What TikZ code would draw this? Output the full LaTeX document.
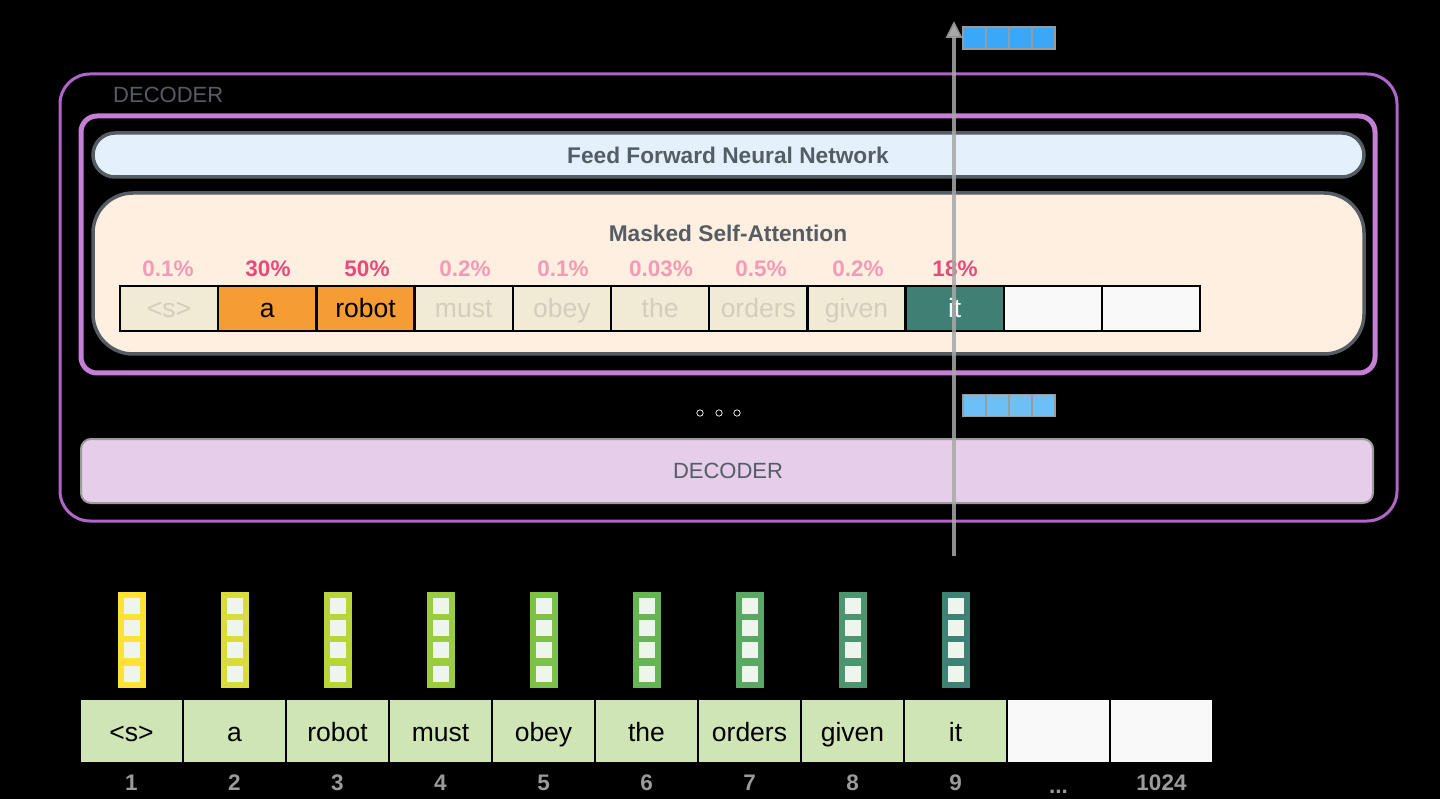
\documentclass[tikz,border=0pt]{standalone}
\usepackage{fontspec}
\setmainfont{Liberation Sans}
\usetikzlibrary{arrows.meta}
\definecolor{outerpurple}{HTML}{B065C9}
\definecolor{innerpurple}{HTML}{C57FD6}
\definecolor{boxgray}{HTML}{555D64}
\definecolor{ffnnfill}{HTML}{E4F1FD}
\definecolor{msafill}{HTML}{FEEFE0}
\definecolor{decfill}{HTML}{E6CDEA}
\definecolor{beige}{HTML}{F1EBD5}
\definecolor{dimtext}{HTML}{D3CDBE}
\definecolor{orangec}{HTML}{F59C33}
\definecolor{tealc}{HTML}{3E8073}
\definecolor{emptyc}{HTML}{F9F9F9}
\definecolor{pctlight}{HTML}{F39AB6}
\definecolor{pctdark}{HTML}{E84A7C}
\definecolor{tokfill}{HTML}{D0E5B5}
\definecolor{numgray}{HTML}{9B9B9B}
\definecolor{vecin}{HTML}{EEF5EC}
\definecolor{blueA}{HTML}{3AA8F6}
\definecolor{blueB}{HTML}{6CC0F5}
\definecolor{arrowgray}{HTML}{A8A8A8}
\definecolor{vc1}{HTML}{FFE233}
\definecolor{vc2}{HTML}{D9DC3A}
\definecolor{vc3}{HTML}{B8D63C}
\definecolor{vc4}{HTML}{9ACC3E}
\definecolor{vc5}{HTML}{7DC246}
\definecolor{vc6}{HTML}{66B552}
\definecolor{vc7}{HTML}{5BA864}
\definecolor{vc8}{HTML}{4B9670}
\definecolor{vc9}{HTML}{3E8275}
\begin{document}
\begin{tikzpicture}[x=1pt,y=-1pt,
  acell/.style={draw=black,line width=2.5pt,minimum width=98.2pt,minimum height=45pt,inner sep=0pt,text height=19pt,text depth=0pt,font=\fontsize{26.5}{30}\selectfont},
  dimcell/.style={acell,fill=beige,text=dimtext},
  hotcell/.style={acell,fill=orangec,text=black},
  curcell/.style={acell,fill=tealc,text=white},
  emptycell/.style={acell,fill=emptyc},
  pct/.style={font=\bfseries\fontsize{22.5}{26}\selectfont,inner sep=0pt,text height=16pt,text depth=0pt},
  pctlo/.style={pct,text=pctlight},
  pcthi/.style={pct,text=pctdark},
  tok/.style={fill=tokfill,minimum width=101pt,minimum height=62pt,inner sep=0pt,text height=20pt,text depth=0pt,font=\fontsize{26.5}{30}\selectfont},
  tokempty/.style={tok,fill=emptyc},
  num/.style={text=numgray,font=\bfseries\fontsize{22.5}{26}\selectfont,inner sep=0pt,text height=16pt,text depth=0pt},
  bluecell/.style={draw=numgray,line width=1.5pt,minimum width=23pt,minimum height=22pt,inner sep=0pt},
  title/.style={text=boxgray,font=\bfseries\fontsize{22.7}{26}\selectfont,inner sep=0pt,text height=16.5pt,text depth=0pt},
  arrowline/.style={draw=arrowgray,line width=3.5pt,draw opacity=0.85,-{Triangle[width=16pt,length=17pt]}}
]
\useasboundingbox (0,0) rectangle (1440,799);
\fill[black] (0,0) rectangle (1440,799);

% outer decoder
\draw[outerpurple,line width=3pt,rounded corners=30pt] (60,74) rectangle (1397,521);
\node[anchor=west,text=boxgray,font=\fontsize{22}{26}\selectfont,inner sep=0pt] (declabel) at (113,95) {DECODER};
% inner block
\draw[innerpurple,line width=5pt,rounded corners=16pt] (81,116) rectangle (1375,373);
% FFNN
\draw[boxgray,fill=ffnnfill,line width=3.5pt,rounded corners=22pt] (93,133) rectangle (1364,177);
\node[title] (ffnn) at (728,155) {Feed Forward Neural Network};
% MSA
\draw[boxgray,fill=msafill,line width=3.5pt,rounded corners=40pt] (93,193) rectangle (1364,354);
\node[title] (msa) at (728,233) {Masked Self-Attention};

% percentages
\node[pctlo] (p1) at (168,269) {0.1\%};
\node[pcthi] (p2) at (268,269) {30\%};
\node[pcthi] (p3) at (367,269) {50\%};
\node[pctlo] (p4) at (465,269) {0.2\%};
\node[pctlo] (p5) at (563,269) {0.1\%};
\node[pctlo] (p6) at (661,269) {0.03\%};
\node[pctlo] (p7) at (761,269) {0.5\%};
\node[pctlo] (p8) at (858,269) {0.2\%};
\node[pcthi] (p9) at (955,269) {18\%};

% attention row
\node[dimcell] (a1) at (169.1,308.5) {<s>};
\node[hotcell] (a2) at (267.3,308.5) {a};
\node[hotcell] (a3) at (365.5,308.5) {robot};
\node[dimcell] (a4) at (463.7,308.5) {must};
\node[dimcell] (a5) at (561.9,308.5) {obey};
\node[dimcell] (a6) at (660.1,308.5) {the};
\node[dimcell] (a7) at (758.3,308.5) {orders};
\node[dimcell] (a8) at (856.5,308.5) {given};
\node[curcell] (a9) at (954.7,308.5) {it};
\node[emptycell] (a10) at (1052.9,308.5) {};
\node[emptycell] (a11) at (1151.1,308.5) {};

% dots
\foreach \x in {700,719,737}
  \draw[white,line width=0.7pt,fill=black] (\x,413) circle (3.2pt);

% bottom decoder
\draw[numgray,fill=decfill,line width=2pt,rounded corners=10pt] (81,439) rectangle (1373,503);
\node[text=boxgray,font=\fontsize{22}{26}\selectfont] (dec2) at (728,471) {DECODER};

% blue vectors
\foreach \k in {0,1,2,3} {
  \node[bluecell,fill=blueA] (ot\k) at (974.5+23*\k,38) {};
  \node[bluecell,fill=blueB] (om\k) at (974.5+23*\k,405.5) {};
}

% embedding vectors
\foreach \i/\c in {1/vc1,2/vc2,3/vc3,4/vc4,5/vc5,6/vc6,7/vc7,8/vc8,9/vc9} {
  \pgfmathsetmacro{\cx}{28.5+103*\i}
  \node[fill=\c,minimum width=28pt,minimum height=96pt,inner sep=0pt] (v\i) at (\cx,640) {};
  \foreach \yy in {606,628,650,673.5}
    \fill[vecin] (\cx-8,\yy-8) rectangle (\cx+8,\yy+8);
}

% bottom tokens
\node[tok] (t1) at (131.5,731) {<s>};
\node[tok] (t2) at (234.5,731) {a};
\node[tok] (t3) at (337.5,731) {robot};
\node[tok] (t4) at (440.5,731) {must};
\node[tok] (t5) at (543.5,731) {obey};
\node[tok] (t6) at (646.5,731) {the};
\node[tok] (t7) at (749.5,731) {orders};
\node[tok] (t8) at (852.5,731) {given};
\node[tok] (t9) at (955.5,731) {it};
\node[tokempty] (t10) at (1058.5,731) {};
\node[tokempty] (t11) at (1161.5,731) {};

% numbers
\foreach \i in {1,...,9}
  \node[num] (n\i) at (28.5+103*\i,782) {\i};
\node[num] (n10) at (1058.5,785) {...};
\node[num] (n11) at (1161.5,782) {1024};

% arrow
\coordinate (arrS) at (954,556);
\coordinate (arrE) at (954,21);
\draw[arrowline] (arrS) -- (arrE);
\end{tikzpicture}
\end{document}
